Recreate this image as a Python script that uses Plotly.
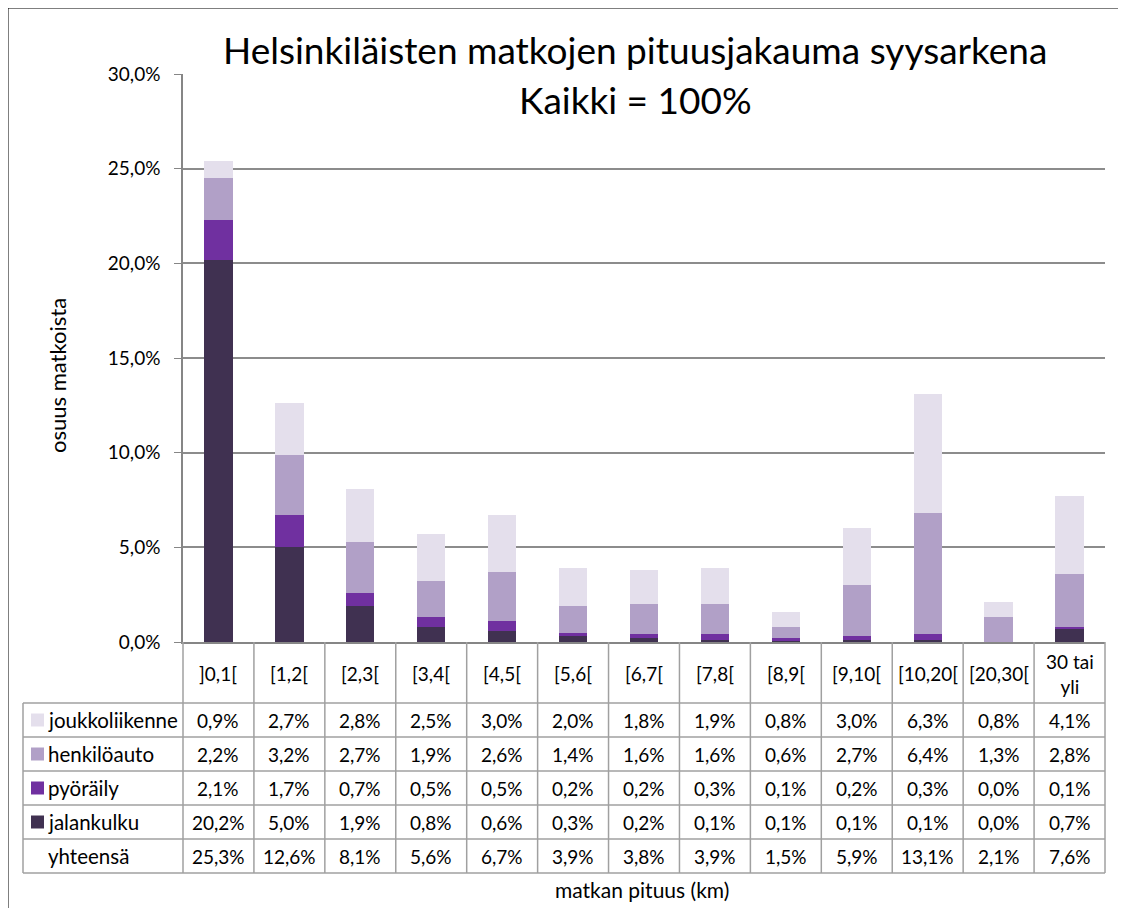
import plotly.graph_objects as go

categories = ["]0,1[", "[1,2[", "[2,3[", "[3,4[", "[4,5[", "[5,6[", "[6,7[", "[7,8[",
              "[8,9[", "[9,10[", "[10,20[", "[20,30[", "30 tai<br>yli"]
joukkoliikenne = [0.9, 2.7, 2.8, 2.5, 3.0, 2.0, 1.8, 1.9, 0.8, 3.0, 6.3, 0.8, 4.1]
henkiloauto = [2.2, 3.2, 2.7, 1.9, 2.6, 1.4, 1.6, 1.6, 0.6, 2.7, 6.4, 1.3, 2.8]
pyoraily = [2.1, 1.7, 0.7, 0.5, 0.5, 0.2, 0.2, 0.3, 0.1, 0.2, 0.3, 0.0, 0.1]
jalankulku = [20.2, 5.0, 1.9, 0.8, 0.6, 0.3, 0.2, 0.1, 0.1, 0.1, 0.1, 0.0, 0.7]
yhteensa = [25.3, 12.6, 8.1, 5.6, 6.7, 3.9, 3.8, 3.9, 1.5, 5.9, 13.1, 2.1, 7.6]

series = [
    ("jalankulku", jalankulku, "#403151"),
    ("pyöräily", pyoraily, "#7030A0"),
    ("henkilöauto", henkiloauto, "#B1A0C7"),
    ("joukkoliikenne", joukkoliikenne, "#E4DFEC"),
]
table_rows = [
    ("joukkoliikenne", joukkoliikenne, "#E4DFEC"),
    ("henkilöauto", henkiloauto, "#B1A0C7"),
    ("pyöräily", pyoraily, "#7030A0"),
    ("jalankulku", jalankulku, "#403151"),
    ("yhteensä", yhteensa, None),
]

FONT = "Lato"
OFF = 8  # page body margin
W, H = 1126 - OFF, 908 - OFF
# plot area in page pixel coordinates
L, R, T, B = 183, 1105, 74, 642
PW, PH = R - L, B - T

def px(x):
    return (x - L) / PW

def py(y):
    return (B - y) / PH

xs = list(range(len(categories)))
fig = go.Figure()
for name, vals, col in series:
    fig.add_trace(go.Bar(x=xs, y=vals, name=name, marker=dict(color=col, line=dict(width=0)),
                         showlegend=False))

shapes = []
annotations = []
grid_col = "#A0A0A0"
ncat = len(categories)
colw = PW / ncat
header_bottom = 703
row_h = 34
nrows = len(table_rows)
table_bottom = header_bottom + row_h * nrows
TF = 19
LF = 20.5

for k in range(ncat + 1):
    xk = L + k * colw
    shapes.append(dict(type="line", xref="paper", yref="paper", x0=px(xk), x1=px(xk),
                       y0=py(B), y1=py(table_bottom), line=dict(color=grid_col, width=1.5)))
shapes.append(dict(type="line", xref="paper", yref="paper", x0=px(23), x1=px(23),
                   y0=py(header_bottom), y1=py(table_bottom), line=dict(color=grid_col, width=1.5)))
for r in range(nrows + 1):
    yr = header_bottom + r * row_h
    shapes.append(dict(type="line", xref="paper", yref="paper", x0=px(23), x1=px(R),
                       y0=py(yr), y1=py(yr), line=dict(color=grid_col, width=1.5)))

for i, c in enumerate(categories):
    annotations.append(dict(x=i, xref="x", y=py((B + header_bottom) / 2 + 1), yref="paper",
                            text=c, showarrow=False, font=dict(family=FONT, size=TF, color="#000"),
                            xanchor="center", yanchor="middle"))

for r, (name, vals, col) in enumerate(table_rows):
    yc = header_bottom + r * row_h + row_h / 2
    if col:
        shapes.append(dict(type="rect", xref="paper", yref="paper", x0=px(31), x1=px(44),
                           y0=py(yc - 6.5), y1=py(yc + 6.5), fillcolor=col, line=dict(width=0)))
    annotations.append(dict(x=px(46), xref="paper", y=py(yc), yref="paper", text=name,
                            showarrow=False, xanchor="left", yanchor="middle",
                            font=dict(family=FONT, size=LF, color="#000")))
    for i, v in enumerate(vals):
        annotations.append(dict(x=i, xref="x", y=py(yc), yref="paper",
                                text=f"{v:.1f}%".replace(".", ","), showarrow=False,
                                xanchor="center", yanchor="middle",
                                font=dict(family=FONT, size=TF, color="#000")))

annotations.append(dict(x=px(635), xref="paper", y=py(49), yref="paper",
                        text="Helsinkiläisten matkojen pituusjakauma syysarkena", showarrow=False,
                        xanchor="center", yanchor="middle", font=dict(family=FONT, size=37, color="#000")))
annotations.append(dict(x=px(635), xref="paper", y=py(99), yref="paper",
                        text="Kaikki = 100%", showarrow=False,
                        xanchor="center", yanchor="middle", font=dict(family=FONT, size=37, color="#000")))
annotations.append(dict(x=px(57), xref="paper", y=py(376), yref="paper", text="osuus matkoista",
                        showarrow=False, textangle=-90, xanchor="center", yanchor="middle",
                        font=dict(family=FONT, size=22, color="#000")))
annotations.append(dict(x=px(642), xref="paper", y=py(890), yref="paper", text="matkan pituus (km)",
                        showarrow=False, xanchor="center", yanchor="middle",
                        font=dict(family=FONT, size=21, color="#000")))

shapes.append(dict(type="rect", xref="paper", yref="paper", x0=px(7.5), x1=px(1140),
                   y0=py(7.5), y1=py(930), line=dict(color="#000", width=2), fillcolor="rgba(0,0,0,0)"))

fig.update_layout(
    width=W, height=H, barmode="stack", bargap=0.6,
    margin=dict(l=L - OFF, r=W - (R - OFF), t=T - OFF, b=H - (B - OFF), autoexpand=False),
    paper_bgcolor="white", plot_bgcolor="white",
    separators=", ",
    shapes=shapes, annotations=annotations,
    xaxis=dict(range=[-0.5, ncat - 0.5], showticklabels=False, showgrid=False, zeroline=False,
               showline=True, linecolor="#868686", linewidth=1.5, ticks=""),
    yaxis=dict(range=[0, 30], dtick=5, tickformat=".1f", ticksuffix="%", showgrid=True,
               gridcolor="#8C8C8C", gridwidth=1.5, zeroline=False, showline=True, linecolor="#868686",
               linewidth=1.5, ticks="outside", ticklen=7, tickcolor="#868686",
               ticklabelstandoff=10,
               tickfont=dict(family=FONT, size=19, color="#000")),
)
fig.write_html("out.html")
